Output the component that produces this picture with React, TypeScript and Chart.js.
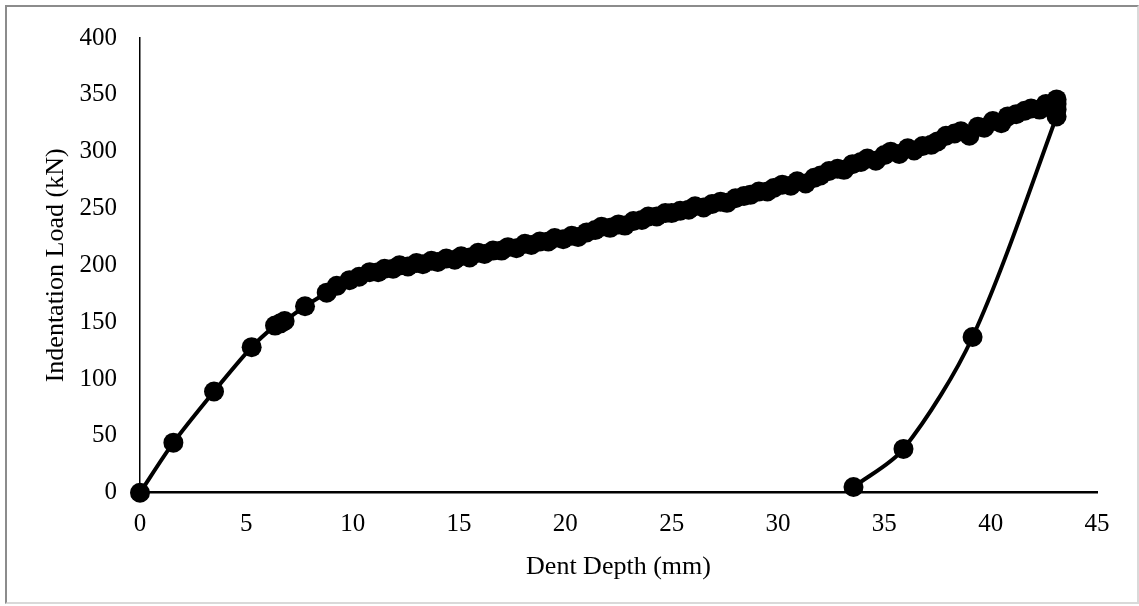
import React, { useEffect, useRef } from "react";
import { Chart, registerables } from "chart.js";

Chart.register(...registerables);

// Tick labels
const xTickValues = [0, 5, 10, 15, 20, 25, 30, 35, 40, 45];
const yTickValues = [0, 50, 100, 150, 200, 250, 300, 350, 400];

// Dent depth (mm) — loading branch followed by unloading branch
const depthMm = [
  0, 1.57, 3.48, 5.25, 6.35, 6.6, 6.8, 7.76, 8.78, 9.25, 9.85, 10.3,
  10.8, 11.2, 11.5, 11.9, 12.2, 12.6, 13.0, 13.3, 13.7, 14.0, 14.4, 14.8,
  15.1, 15.5, 15.9, 16.2, 16.6, 17.0, 17.3, 17.7, 18.1, 18.4, 18.8, 19.2,
  19.5, 19.9, 20.3, 20.6, 21.0, 21.4, 21.7, 22.1, 22.5, 22.8, 23.2, 23.6,
  23.9, 24.3, 24.7, 25.0, 25.4, 25.8, 26.1, 26.5, 26.9, 27.3, 27.6, 28.0,
  28.4, 28.7, 29.1, 29.5, 29.8, 30.2, 30.6, 30.9, 31.3, 31.7, 32.0, 32.4,
  32.8, 33.1, 33.5, 33.9, 34.2, 34.6, 35.0, 35.3, 35.7, 36.1, 36.4, 36.8,
  37.2, 37.5, 37.9, 38.3, 38.6, 39.0, 39.4, 39.7, 40.1, 40.5, 40.8, 41.2,
  41.6, 41.9, 42.3, 42.6, 42.9, 43.1, 43.1, 43.1,
  43.1, 39.15, 35.9, 33.55,
];

// Indentation load (kN)
const loadKN = [
  0, 44, 89, 128, 147, 149, 151, 164, 176, 182, 187, 190,
  194, 194, 197, 197, 200, 199, 202, 201, 204, 203, 206, 205,
  208, 207, 211, 210, 213, 213, 216, 215, 219, 218, 221, 221,
  224, 223, 226, 225, 229, 231, 234, 233, 236, 235, 239, 240,
  243, 243, 246, 246, 248, 249, 252, 251, 254, 256, 255, 259,
  261, 262, 265, 265, 268, 271, 270, 274, 272, 277, 279, 283,
  285, 284, 289, 291, 294, 292, 297, 300, 298, 303, 301, 305,
  306, 309, 314, 316, 318, 314, 322, 321, 327, 325, 331, 333,
  336, 338, 337, 342, 340, 346, 342, 337,
  331, 137, 38.5, 5,
];

const FONT_FAMILY = '"Liberation Serif", "Times New Roman", Times, serif';

export default function App() {
  const canvasRef = useRef<HTMLCanvasElement>(null);

  useEffect(() => {
    document.body.style.margin = "0";
    const canvas = canvasRef.current;
    if (!canvas) return;

    const points = depthMm.map((x, i) => ({ x, y: loadKN[i] }));
    const tickFont = { family: FONT_FAMILY, size: 25 };
    const titleFont = { family: FONT_FAMILY, size: 26 };

    const chart = new Chart(canvas, {
      type: "scatter",
      data: {
        datasets: [
          {
            data: points,
            showLine: true,
            borderColor: "#000",
            backgroundColor: "#000",
            borderWidth: 4,
            pointRadius: 10,
            pointBorderWidth: 0,
            pointBackgroundColor: "#000",
            tension: 0.3,
            clip: false,
          } as any,
        ],
      },
      options: {
        responsive: false,
        animation: false,
        layout: { padding: { left: 0, right: 42, top: 35, bottom: 0 } },
        plugins: {
          legend: { display: false },
          tooltip: { enabled: false },
        },
        scales: {
          x: {
            type: "linear",
            min: 0,
            max: 45,
            afterFit: (s: any) => {
              s.height = 113.3;
            },
            afterBuildTicks: (s: any) => {
              s.ticks = xTickValues.map((v) => ({ value: v }));
            },
            ticks: {
              font: tickFont,
              color: "#000",
              padding: 17,
              autoSkip: false,
              maxRotation: 0,
            },
            grid: { display: false, drawTicks: false },
            border: { display: true, color: "#000", width: 2.5 },
            title: {
              display: true,
              text: "Dent Depth (mm)",
              font: titleFont,
              color: "#000",
              padding: { top: 0, bottom: 23 },
            },
          },
          y: {
            type: "linear",
            min: 0,
            max: 400,
            afterFit: (s: any) => {
              s.width = 140;
            },
            afterBuildTicks: (s: any) => {
              s.ticks = yTickValues.map((v) => ({ value: v }));
            },
            ticks: {
              font: tickFont,
              color: "#000",
              padding: 23,
              autoSkip: false,
            },
            grid: { display: false, drawTicks: false },
            border: { display: true, color: "#000", width: 1.5 },
            title: {
              display: true,
              text: "Indentation Load (kN)",
              font: titleFont,
              color: "#000",
              padding: { top: 41, bottom: 0 },
            },
          },
        },
      },
    });

    return () => chart.destroy();
  }, []);

  return (
    <div style={{ position: "relative", width: 1139, height: 606, background: "#fff" }}>
      <canvas ref={canvasRef} width={1139} height={606} style={{ display: "block" }} />
      <div
        style={{
          position: "absolute",
          left: 5,
          top: 5,
          width: 1134,
          height: 599,
          boxSizing: "border-box",
          borderLeft: "2px solid #8c8c8c",
          borderTop: "2px solid #8c8c8c",
          borderRight: "2px solid #d9d9d9",
          borderBottom: "2px solid #d9d9d9",
          pointerEvents: "none",
        }}
      />
    </div>
  );
}
